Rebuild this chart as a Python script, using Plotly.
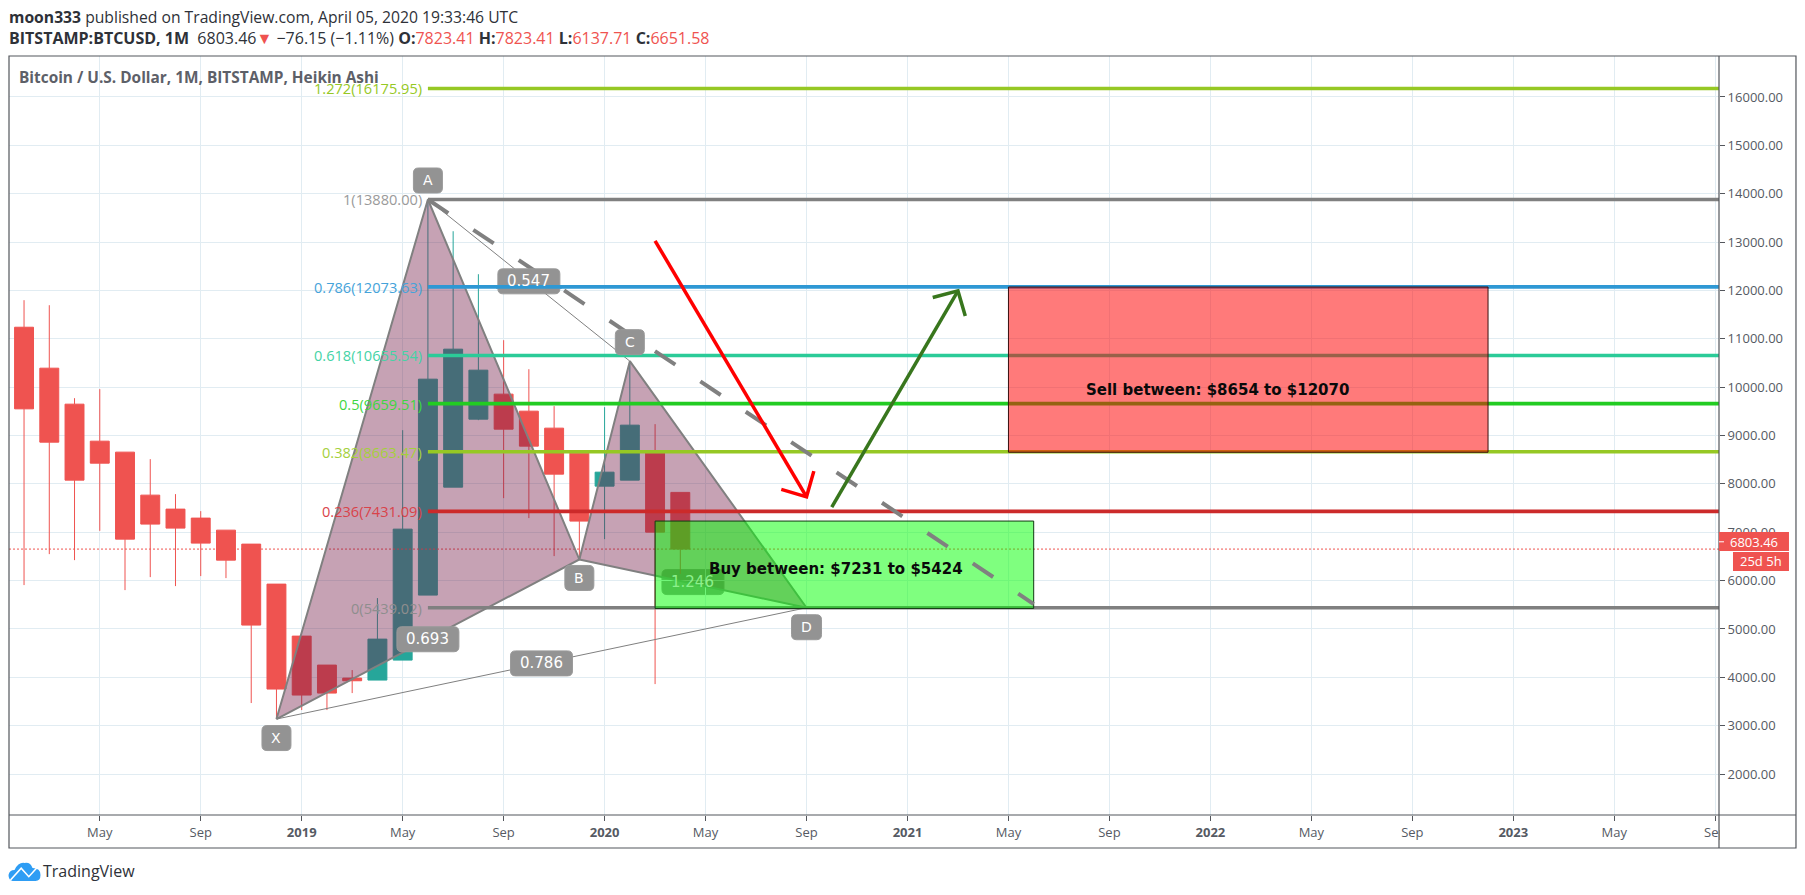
import plotly.graph_objects as go

# ---------- data ----------
candle_idx = list(range(1, 28))  # months since Jan 2018 (Feb 2018 .. Apr 2020)
open_  = [11239,10392,9648,8883,8656,7767,7478,7292,7043,6754,5927,4852,4253,3984,3943,4356,5700,7932,9338,9855,9503,9152,8635,7953,8077,8635,7823.41]
high_  = [11798,11694,9772,9958,8656,8511,7788,7436,7043,6754,5927,4852,4253,4150,5638,9110,13880,13224,12335,10971,10371,9607,8635,9586,10537,9235,7823.41]
low_   = [5907,6547,6423,7029,5803,6072,5886,6093,6051,3468,3137,3323,3323,3674,3943,4356,5700,7932,9317,7705,7292,6506,6423,6857,8077,3860,6137.71]
close_ = [9551,8862,8077,8428,6857,7168,7085,6775,6423,5080,3757,3633,3674,3929,4790,7064,10165,10785,10351,9131,8780,8201,7230,8242,9214,7002,6651.58]

tick_idx = list(range(4, 69, 4))
tick_txt = ["May","Sep","<b>2019</b>","May","Sep","<b>2020</b>","May","Sep","<b>2021</b>","May","Sep",
            "<b>2022</b>","May","Sep","<b>2023</b>","May","Sep"]
price_ticks = list(range(2000, 17000, 1000))

fib_ratio  = ["1.272","1","0.786","0.618","0.5","0.382","0.236","0"]
fib_price  = [16175.95,13880.00,12073.63,10655.54,9659.51,8663.47,7431.09,5439.02]
fib_color  = ["#96c824","#808080","#2e98d4","#2bcb98","#22cc22","#96c824","#cc2a2a","#808080"]
fib_text   = ["#96c824","#9a9a9a","#45a3da","#44d3a5","#3fd63f","#a5d03c","#d9434a","#8e8e8e"]
fib_start  = 17

pt_x = {"X":11,"A":17,"B":23,"C":25,"D":32}
pt_y = {"X":3137,"A":13880,"B":6437,"C":10537,"D":5439}

dash_x = [17,41]; dash_y = [13880,5515]
buy_x = [26,41]; buy_y = [5424,7231]
sell_x = [40,59]; sell_y = [8654,12070]
red_arrow_x = [26,32]; red_arrow_y = [13025,7732]
red_head_x = [31,32,32.29]; red_head_y = [7885,7732,8263]
green_arrow_x = [33,38]; green_arrow_y = [7519,11990]
green_head_x = [37,38,38.29]; green_head_y = [11853,11990,11473]
last_close = 6651.58
last_price = 6803.46

# ---------- frame ----------
L,R,T,B = 8.5,1719,55.7,815
XR = [0.404,68.15]; YR = [1153,16847]
def px(x): return (x-L)/(R-L)
def py(y): return (B-y)/(B-T)

FG="#555a63"; FRAME="#53565c"; RED="#ef5350"; TEAL="#26a69a"; GRAY="#808080"
FONT="Open Sans"; VFONT="DejaVu Sans"

fig = go.Figure()
fig.add_trace(go.Candlestick(x=candle_idx, open=open_, high=high_, low=low_, close=close_,
    increasing=dict(line=dict(color=TEAL,width=1),fillcolor=TEAL),
    decreasing=dict(line=dict(color=RED,width=1),fillcolor=RED), whiskerwidth=0, hoverinfo="skip"))

def line(x,y,color,width,dash=None):
    fig.add_trace(go.Scatter(x=x,y=y,mode="lines",line=dict(color=color,width=width,dash=dash),hoverinfo="skip"))

# current price line
line(XR,[last_close,last_close],RED,1,"2px,2px")

# harmonic pattern
MAUVE="rgba(116,28,72,0.41)"
for tri in (("X","A","B"),("B","C","D")):
    xs=[pt_x[k] for k in tri]+[pt_x[tri[0]]]; ys=[pt_y[k] for k in tri]+[pt_y[tri[0]]]
    fig.add_trace(go.Scatter(x=xs,y=ys,mode="lines",fill="toself",fillcolor=MAUVE,
        line=dict(color=GRAY,width=2),hoverinfo="skip"))
line([pt_x["X"],pt_x["D"]],[pt_y["X"],pt_y["D"]],GRAY,1)
line([pt_x["A"],pt_x["C"]],[pt_y["A"],pt_y["C"]],GRAY,1)

# fib levels
for p,c in zip(fib_price,fib_color):
    line([fib_start,XR[1]],[p,p],c,3.6)

# zones and trend
def rect(xx,yy,fill):
    fig.add_trace(go.Scatter(x=[xx[0],xx[1],xx[1],xx[0],xx[0]],y=[yy[0],yy[0],yy[1],yy[1],yy[0]],
        mode="lines",fill="toself",fillcolor=fill,line=dict(color="#123a12" if "0,255" in fill else "#3a0f0f",width=1),hoverinfo="skip"))
rect(buy_x,buy_y,"rgba(0,255,0,0.5)")
rect(sell_x,sell_y,"rgba(255,0,0,0.52)")
line(dash_x,dash_y,GRAY,4,"24.5px,30.1px")

line(red_arrow_x,red_arrow_y,"#ff0000",3.5)
line(red_head_x,red_head_y,"#ff0000",3.5)
line(green_arrow_x,green_arrow_y,"#38761d",3.5)
line(green_head_x,green_head_y,"#38761d",3.5)

# ---------- rounded labels ----------
shapes=[]; ann=[]
def rounded(w,h,r=5):
    a,b=w/2,h/2
    return (f"M {-a+r} {-b} L {a-r} {-b} Q {a} {-b} {a} {-b+r} L {a} {b-r} Q {a} {b} {a-r} {b} "
            f"L {-a+r} {b} Q {-a} {b} {-a} {b-r} L {-a} {-b+r} Q {-a} {-b} {-a+r} {-b} Z")
def tag(x,y,text,w,h,dy=0,layer="above",tcolor="white",size=14):
    toks=rounded(w,h).split(); out=[]; i=0
    while i<len(toks):
        t=toks[i]
        if t.isalpha(): out.append(t); i+=1
        else:
            out+= [toks[i], str(float(toks[i+1])+dy)]; i+=2
    shapes.append(dict(type="path",xref="x",yref="y",xsizemode="pixel",ysizemode="pixel",xanchor=x,yanchor=y,
        path=" ".join(out),fillcolor="#939393",line=dict(color="#9a9a9a",width=1),layer=layer))
    ann.append(dict(x=x,y=y,xref="x",yref="y",text=text,showarrow=False,xanchor="center",yanchor="middle",
        yshift=dy,font=dict(family=VFONT,size=size,color=tcolor)))

def mid(a,b): return (pt_x[a]+pt_x[b])/2,(pt_y[a]+pt_y[b])/2
tag(*mid("B","D"),"1.246",62,25,dy=1.5,layer="below",tcolor="#8cf08c",size=15)
tag(pt_x["X"],pt_y["X"],"X",29,25,dy=-19)
tag(pt_x["A"],pt_y["A"],"A",29,25,dy=19)
tag(pt_x["B"],pt_y["B"],"B",29,25,dy=-18.5)
tag(pt_x["C"],pt_y["C"],"C",29,25,dy=19)
tag(pt_x["D"],pt_y["D"],"D",30,25,dy=-19.5)
tag(*mid("A","C"),"0.547",62,25,dy=-1,size=15)
tag(*mid("X","B"),"0.693",62,25,size=15)
tag(*mid("X","D"),"0.786",62,25,size=15)
# blue level stays visible over the 0.547 tag
shapes.append(dict(type="line",xref="x",yref="y",x0=mid("A","C")[0]-1.3,x1=mid("A","C")[0]+1.3,
    y0=fib_price[2],y1=fib_price[2],line=dict(color=fib_color[2],width=3.6),layer="above"))

# fib labels
for r_,p,c in zip(fib_ratio,fib_price,fib_text):
    ann.append(dict(x=fib_start,y=p,xref="x",yref="y",text=f"{r_}({p:.2f})",showarrow=False,xanchor="right",
        yanchor="middle",xshift=-4,font=dict(family=FONT,size=14.6,color=c)))

# zone texts
ann.append(dict(x=33.15,y=6240,xref="x",yref="y",text="<b>Buy between: $7231 to $5424</b>",showarrow=False,
    font=dict(family=VFONT,size=15,color="#0a0a0a"),xanchor="center",yanchor="middle"))
ann.append(dict(x=48.3,y=9950,xref="x",yref="y",text="<b>Sell between: $8654 to $12070</b>",showarrow=False,
    font=dict(family=VFONT,size=15,color="#0a0a0a"),xanchor="center",yanchor="middle"))

# ---------- chrome ----------
def ptext(x,y,text,size,color="#222",anchor="left",family=FONT):
    ann.append(dict(x=px(x),y=py(y),xref="paper",yref="paper",text=text,showarrow=False,xanchor=anchor,yanchor="middle",
        font=dict(family=family,size=size,color=color),xshift=0))
ptext(6,17,"<b>moon333</b> published on TradingView.com, April 05, 2020 19:33:46 UTC",15.7,"#2e3138")
sp=lambda t:f'<span style="color:{RED}">{t}</span>'
ptext(6,38,f"<b>BITSTAMP:BTCUSD, 1M</b>  6803.46{sp('▼')} −76.15 (−1.11%) <b>O:</b>{sp('7823.41')} <b>H:</b>{sp('7823.41')} <b>L:</b>{sp('6137.71')} <b>C:</b>{sp('6651.58')}",16,"#2e3138")
ptext(17,77,"<b>Bitcoin / U.S. Dollar, 1M, BITSTAMP, Heikin Ashi</b>",15.4,"#5d6068")
ptext(41,871,"TradingView",16,"#2e3138")

def prect(x0,y0,x1,y1,fill=None,lc=None,lw=1):
    shapes.append(dict(type="rect",xref="paper",yref="paper",x0=px(x0),x1=px(x1),y0=py(y0),y1=py(y1),
        fillcolor=fill or "rgba(0,0,0,0)",line=dict(color=lc or "rgba(0,0,0,0)",width=lw if lc else 0),layer="above"))
def pline(x0,y0,x1,y1,c=FRAME,w=1.2):
    shapes.append(dict(type="line",xref="paper",yref="paper",x0=px(x0),x1=px(x1),y0=py(y0),y1=py(y1),
        line=dict(color=c,width=w),layer="above"))
prect(1720,816,1795,848,"white")     # clips the last tick label at the price scale
prect(8.5,55.7,1796,848,None,FRAME,1.2)
pline(R,55.7,R,848)
pline(8.5,B,1796,B)
# last price tags
prect(1719,532,1789,551,RED)
prect(1733,552,1789,571,RED)
pline(1719,541.7,1724,541.7,"white",1)
ptext(1754,541.7,"6803.46",13,"white","center")
ptext(1761,561,"25d 5h",13,"white","center")
# logo
def P(x,y): return f"{px(x):.5f} {py(y):.5f}"
cloud=(f"M {P(12,881)} Q {P(8,880)} {P(8,875)} Q {P(9,870)} {P(14,870)} Q {P(18,862)} {P(24,863)} "
       f"Q {P(30,862)} {P(32,868)} Q {P(40,868)} {P(40,875)} Q {P(40,881)} {P(35,881)} Z")
shapes.append(dict(type="path",xref="paper",yref="paper",path=cloud,fillcolor="#2e9df4",line=dict(width=0),layer="above"))
shapes.append(dict(type="path",xref="paper",yref="paper",path=f"M {P(10,880)} L {P(20.7,868.3)} L {P(28.3,876.7)} L {P(38,866)}",
    fillcolor="rgba(0,0,0,0)",line=dict(color="white",width=1.6),layer="above"))

fig.update_layout(width=1805,height=895,margin=dict(l=L,r=1805-R,t=T,b=895-B,pad=0,autoexpand=False),
    paper_bgcolor="white",plot_bgcolor="white",showlegend=False,boxgap=0.25,boxgroupgap=0,
    hovermode=False,shapes=shapes,annotations=ann,
    xaxis=dict(range=XR,tickmode="array",tickvals=tick_idx,ticktext=tick_txt,rangeslider=dict(visible=False),
        showgrid=True,gridcolor="#e1ecf2",gridwidth=1,zeroline=False,ticks="outside",ticklen=5,tickcolor=FRAME,
        tickfont=dict(family=FONT,size=13,color=FG),showline=False),
    yaxis=dict(range=YR,side="right",tickmode="array",tickvals=price_ticks,ticktext=[f"{v:.2f}" for v in price_ticks],
        showgrid=True,gridcolor="#e1ecf2",gridwidth=1,zeroline=False,ticks="outside",ticklen=5,tickcolor=FRAME,
        tickfont=dict(family=FONT,size=13,color=FG),showline=False))
fig.write_html("out.html",config=dict(displayModeBar=False),
    post_script="document.body.style.margin='0';document.body.style.overflow='hidden';")
